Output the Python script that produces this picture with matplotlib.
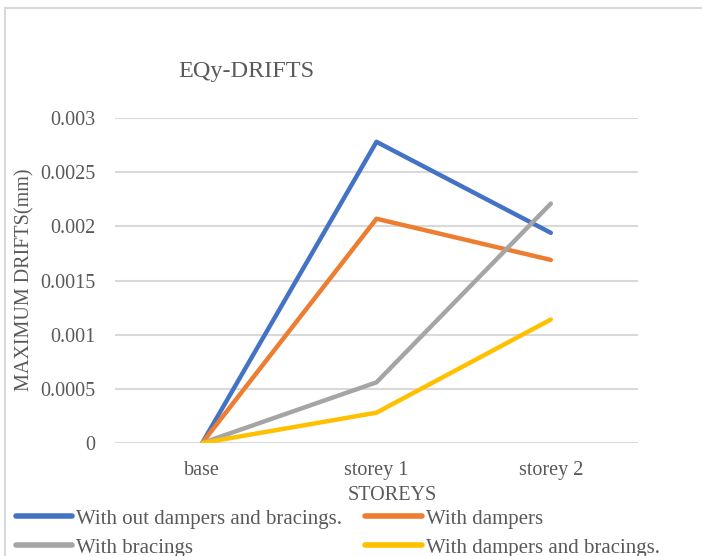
import matplotlib.pyplot as plt
from matplotlib.patches import Rectangle

plt.rcParams['font.family'] = ['Liberation Serif', 'DejaVu Serif']

storeys = ['base', 'storey 1', 'storey 2']
no_dampers_bracings = [0, 0.00278, 0.00194]
with_dampers = [0, 0.00207, 0.00169]
with_bracings = [0, 0.00056, 0.00221]
dampers_and_bracings = [0, 0.00028, 0.00114]

yticks = [0, 0.0005, 0.001, 0.0015, 0.002, 0.0025, 0.003]
ytick_labels = ['0', '0.0005', '0.001', '0.0015', '0.002', '0.0025', '0.003']

W, H = 702, 556
fig = plt.figure(figsize=(W / 100, H / 100), dpi=100)
fig.patches.append(Rectangle((5 / W, -0.1), 1.2, 1 - 8 / H + 0.1, transform=fig.transFigure,
                             fill=False, edgecolor='#d9d9d9', linewidth=1.5))

ax = fig.add_axes([115 / W, 1 - 443 / H, 523 / W, 325 / H])
x = range(len(storeys))
l1, = ax.plot(x, no_dampers_bracings, color='#4472C4', lw=3.2, solid_capstyle='round')
l2, = ax.plot(x, with_dampers, color='#ED7D31', lw=3.2, solid_capstyle='round')
l3, = ax.plot(x, with_bracings, color='#A5A5A5', lw=3.2, solid_capstyle='round')
l4, = ax.plot(x, dampers_and_bracings, color='#FFC000', lw=3.2, solid_capstyle='round')

ax.set_xlim(-0.5, 2.5)
ax.set_ylim(0, 0.003)
ax.set_xticks(list(x))
ax.set_xticklabels(storeys)
ax.set_yticks(yticks)
ax.set_yticklabels(ytick_labels)
ax.tick_params(length=0, labelsize=14.5, colors='#595959')
ax.tick_params(axis='y', pad=14)
ax.tick_params(axis='x', pad=13)
for s in ax.spines.values():
    s.set_visible(False)
ax.grid(axis='y', color='#d9d9d9', lw=1.5)
ax.set_axisbelow(True)

fig.text(178 / W, 1 - 72 / H, 'EQy-DRIFTS', fontsize=17.5, color='#595959', va='center', ha='left')
fig.text(25 / W, 1 - 280 / H, 'MAXIMUM DRIFTS(mm)', fontsize=14.5, color='#595959',
         rotation=90, va='center', ha='center')
fig.text(392 / W, 1 - 495 / H, 'STOREYS', fontsize=14.5, color='#595959', va='center', ha='center')

leg = fig.legend([l1, l3, l2, l4],
                 ['With out dampers and bracings.', 'With bracings', 'With dampers',
                  'With dampers and bracings.'],
                 ncol=2, loc='upper left', bbox_to_anchor=(16 / W, 1 - 509 / H),
                 frameon=False, fontsize=15, handlelength=2.7, handletextpad=0.2,
                 columnspacing=1.1, labelspacing=0.45, borderpad=0, borderaxespad=0)
for t in leg.get_texts():
    t.set_color('#595959')
for h in leg.legend_handles:
    h.set_linewidth(4)

fig.savefig('out.png', dpi=100)
